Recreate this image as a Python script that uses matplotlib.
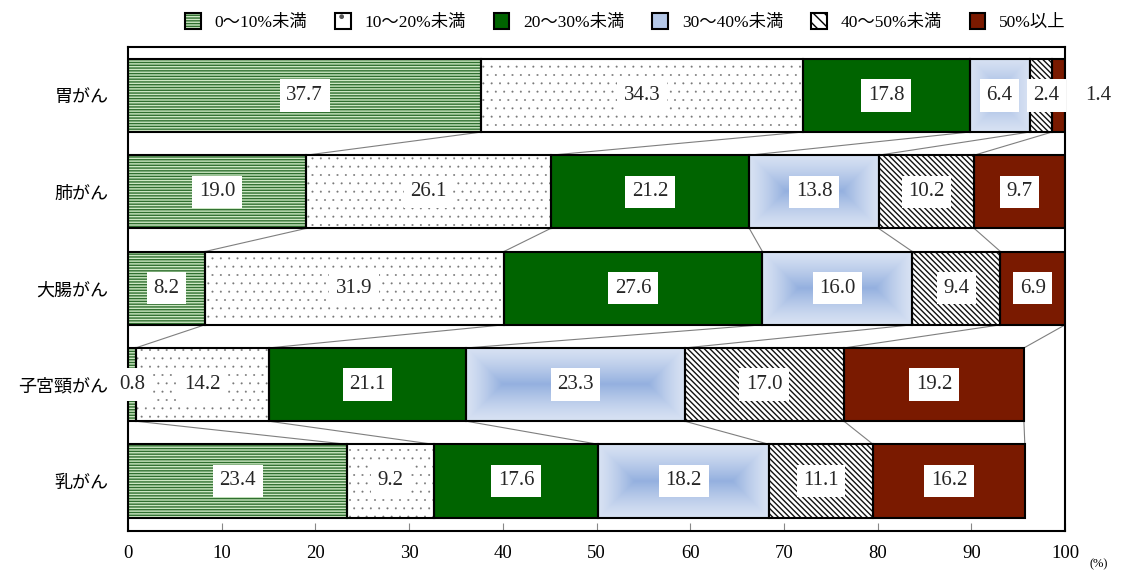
import numpy as np
import matplotlib
matplotlib.use("Agg")
import matplotlib.pyplot as plt
from matplotlib.patches import Patch
from matplotlib.colors import to_rgb

plt.rcParams['font.family'] = ['Liberation Serif', 'Noto Sans CJK JP']
plt.rcParams['hatch.linewidth'] = 1.0

# data
cancers = ['胃がん', '肺がん', '大腸がん', '子宮頸がん', '乳がん']
groups = ['0～10%未満', '10～20%未満', '20～30%未満', '30～40%未満', '40～50%未満', '50%以上']
v_0_10 = [37.7, 19.0, 8.2, 0.8, 23.4]
v_10_20 = [34.3, 26.1, 31.9, 14.2, 9.2]
v_20_30 = [17.8, 21.2, 27.6, 21.1, 17.6]
v_30_40 = [6.4, 13.8, 16.0, 23.3, 18.2]
v_40_50 = [2.4, 10.2, 9.4, 17.0, 11.1]
v_50 = [1.4, 9.7, 6.9, 19.2, 16.2]
ticks = [0, 10, 20, 30, 40, 50, 60, 70, 80, 90, 100]

vals = np.array([v_0_10, v_10_20, v_20_30, v_30_40, v_40_50, v_50])

# styles
face = ['#cde8c4', 'white', '#006400', '#b4c7e7', 'white', '#7a1a00']
hatchc = ['#2f6f2f', '#777777', '#006400', '#b4c7e7', '#111111', '#7a1a00']
hatches = ['------', '..', None, None, '\\\\\\\\\\\\', None]
hatch_lw = [1.0, 0.2, 1.0, 1.0, 1.0, 1.0]
blue_light = np.array(to_rgb('#d8e2f3'))
blue_dark = np.array(to_rgb('#94b0df'))

fig = plt.figure(figsize=(11.27, 5.76), dpi=100)
ax = fig.add_axes([0.1136, 0.078, 0.8315, 0.840])
H = 0.76
ypos = np.arange(len(cancers))

lefts = np.zeros(len(cancers))
for k in range(len(groups)):
    w = vals[k]
    if k == 3:
        # gradient fill for 30-40%
        for i in range(len(cancers)):
            nx = max(int(w[i] * 9.37), 2)
            ny = 73
            xx = np.arange(nx) + 0.5
            yy = np.arange(ny) + 0.5
            dx = np.minimum(xx, nx - xx)[None, :]
            dy = np.minimum(yy, ny - yy)[:, None]
            t = np.clip(np.minimum(dx, dy) / (ny / 2), 0, 1) ** 1.3
            img = blue_light[None, None, :] + (blue_dark - blue_light)[None, None, :] * t[:, :, None]
            ax.imshow(img, extent=(lefts[i], lefts[i] + w[i], ypos[i] + H / 2, ypos[i] - H / 2),
                      aspect='auto', zorder=1, interpolation='bilinear')
    else:
        plt.rcParams['hatch.linewidth'] = hatch_lw[k]
        ax.barh(ypos, w, left=lefts, height=H, color=face[k], hatch=hatches[k],
                edgecolor=hatchc[k], linewidth=0, zorder=1)
        plt.rcParams['hatch.linewidth'] = 1.0
    ax.barh(ypos, w, left=lefts, height=H, fill=False, edgecolor='black',
            linewidth=1.5, zorder=3)
    lefts = lefts + w

# connector lines
cum = np.cumsum(vals, axis=0)
for i in range(len(cancers) - 1):
    for k in range(len(groups)):
        ax.plot([cum[k, i], cum[k, i + 1]], [ypos[i] + H / 2, ypos[i + 1] - H / 2],
                color='#7f7f7f', lw=0.8, zorder=2)

# value labels
starts = cum - vals
bbox = dict(boxstyle='square,pad=0.32', facecolor='white', edgecolor='none')
for i in range(len(cancers)):
    for k in range(len(groups)):
        x = starts[k, i] + vals[k, i] / 2
        if i == 0 and k == 4:
            x = 98.0
        if i == 0 and k == 5:
            x = 103.5
        if i == 3 and k == 0:
            x = 0.4
        ax.text(x, ypos[i], f'{vals[k, i]:.1f}', ha='center', va='center', fontsize=15,
                color='#262626', bbox=bbox, zorder=5, clip_on=False)

ax.set_xlim(0, 100)
ax.set_ylim(4.52, -0.5)
ax.set_yticks(ypos)
ax.set_yticklabels(cancers, fontsize=13, family=['Noto Sans CJK JP'])
ax.tick_params(axis='y', length=0, pad=14)
ax.set_xticks(ticks)
ax.tick_params(axis='x', direction='in', length=6, width=0.8, color='#888888',
               labelsize=13.5, pad=10)
for s in ax.spines.values():
    s.set_linewidth(1.5)
fig.text(0.975, 0.02, '(%)', fontsize=9, ha='center', va='center')

handles = []
for k in range(len(groups)):
    if k == 3:
        inner = Patch(facecolor='#b4c7e7', linewidth=0)
    elif k == 4:
        inner = Patch(facecolor='white', hatch='\\\\\\', edgecolor='black', linewidth=0)
    elif k == 1:
        inner = Patch(facecolor='white', hatch='.', edgecolor='#555555', linewidth=0)
    else:
        inner = Patch(facecolor=face[k], hatch=hatches[k], edgecolor=hatchc[k], linewidth=0)
    outer = Patch(fill=False, edgecolor='black', linewidth=1.5)
    handles.append((inner, outer))
fig.legend(handles, groups, loc='center', bbox_to_anchor=(0.555, 0.962), ncol=6,
           frameon=False, handlelength=0.9, handleheight=1.1,
           handletextpad=0.8, columnspacing=1.6,
           prop={'family': ['Liberation Serif', 'Noto Sans CJK JP'], 'size': 12.5})

fig.savefig('out.png', dpi=100)
